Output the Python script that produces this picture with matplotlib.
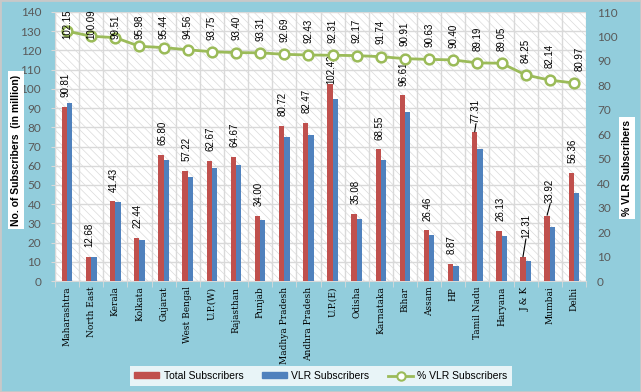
import matplotlib
matplotlib.use("Agg")
import matplotlib.pyplot as plt
from matplotlib.patches import Rectangle, Patch
from matplotlib.lines import Line2D
import numpy as np

# data
states = ["Maharashtra", "North East", "Kerala", "Kolkata", "Gujarat", "West Bengal",
          "U.P.(W)", "Rajasthan", "Punjab", "Madhya Pradesh", "Andhra Pradesh", "U.P.(E)",
          "Odisha", "Karnataka", "Bihar", "Assam", "HP", "Tamil Nadu", "Haryana",
          "J & K", "Mumbai", "Delhi"]
total_subs = [90.81, 12.68, 41.43, 22.44, 65.80, 57.22, 62.67, 64.67, 34.00, 80.72, 82.47,
              102.42, 35.08, 68.55, 96.61, 26.46, 8.87, 77.31, 26.13, 12.31, 33.92, 56.36]
vlr_subs = [92.76, 12.69, 41.23, 21.54, 62.80, 54.11, 58.75, 60.40, 31.73, 74.82, 76.23,
            94.54, 32.33, 62.89, 87.83, 23.98, 8.02, 68.95, 23.27, 10.37, 27.86, 45.63]
pct_vlr = [102.15, 100.09, 99.51, 95.98, 95.44, 94.56, 93.75, 93.40, 93.31, 92.69, 92.43,
           92.31, 92.17, 91.74, 90.91, 90.63, 90.40, 89.19, 89.05, 84.25, 82.14, 80.97]

bg = "#92CDDC"
red = "#C0504D"
blue = "#4F81BD"
green = "#9BBB59"
grid = "#D9D9D9"

plt.rcParams['font.family'] = ['Liberation Sans', 'DejaVu Sans']
plt.rcParams['hatch.linewidth'] = 0.5

fig = plt.figure(figsize=(6.41, 3.92), dpi=100, facecolor=bg)
fig.patches.append(Rectangle((0, 0), 1, 1, transform=fig.transFigure, fill=False,
                             edgecolor="#C8C8C8", linewidth=2))
ax = fig.add_axes([55/641, 1-281/392, 531/641, 269/392])
ax.set_facecolor("white")
# light diagonal hatch on the plot area
ax.add_patch(Rectangle((0, 0), 1, 1, transform=ax.transAxes, facecolor="white",
                       hatch="\\\\\\\\", edgecolor="#DADADA", linewidth=0, zorder=0))

x = np.arange(len(states))
w = 0.22
ax.bar(x - w/2, total_subs, w, color=red, zorder=3)
ax.bar(x + w/2, vlr_subs, w, color=blue, zorder=3)

ax.set_xlim(-0.5, len(states) - 0.5)
ax.set_ylim(0, 140)
ax.set_yticks(np.arange(0, 141, 10))
ax.set_xticks(x)
ax.set_xticklabels(states, rotation=90, fontsize=6.5, family="DejaVu Serif")
ax.set_xticks(np.arange(-0.5, len(states), 1), minor=True)
ax.tick_params(axis="x", which="major", length=0, pad=4)
ax.tick_params(axis="x", which="minor", length=4, color=grid)
ax.tick_params(axis="y", length=3, color=grid, labelsize=8.5, labelcolor="#595959", pad=7)
for lab in ax.get_yticklabels():
    lab.set_family("Lato")
ax.grid(axis="y", color=grid, linewidth=1, zorder=1)
ax.grid(axis="x", which="minor", color=grid, linewidth=1, zorder=1)
for s in ax.spines.values():
    s.set_color(grid)
ax.spines["top"].set_visible(False)
ax.spines["right"].set_visible(False)
ax.set_axisbelow(True)

# labels on total bars (with a few nudged ones like the original)
nudge = {"U.P.(E)": 0.3, "J & K": 10, "Mumbai": 6.5}
leader = ["Tamil Nadu", "J & K", "Mumbai"]
for i, (name, v) in enumerate(zip(states, total_subs)):
    off = nudge.get(name, 5)
    xl = i - w/2 + (0.12 if name in ("J & K", "Mumbai") else 0.05)
    ax.text(xl, v + off, f"{v:.2f}", rotation=90, ha="center", va="bottom",
            fontsize=7, zorder=5)
    if name in leader:
        ax.plot([i - w/2, xl], [v + 0.4, v + off - 0.5], color="black", lw=0.8, zorder=5)

ax2 = ax.twinx()
ax2.set_ylim(0, 110)
ax2.set_yticks(np.arange(0, 111, 10))
ax2.tick_params(axis="y", length=0, labelsize=8.5, labelcolor="#595959", pad=8)
for lab in ax2.get_yticklabels():
    lab.set_family("Lato")
for s in ax2.spines.values():
    s.set_visible(False)
ax2.plot(x, pct_vlr, color=green, lw=2, marker="o", markersize=7,
         markerfacecolor="white", markeredgecolor=green, markeredgewidth=1.8, zorder=4)
for i, p in enumerate(pct_vlr):
    yl = min(p + 5, 98.8)
    xl = i + (0.25 if i == len(pct_vlr) - 1 else 0)
    ax2.text(xl, yl, f"{p:.2f}", rotation=90, ha="center", va="bottom", fontsize=7,
             zorder=5)

fig.text(16/641, 1-150/392, "No. of Subscribers  (in million)", rotation=90,
         ha="center", va="center", fontsize=7.5, fontweight="bold",
         bbox=dict(facecolor="white", edgecolor="none", pad=2.5))
fig.text(627/641, 1-168/392, "% VLR Subscribers", rotation=90,
         ha="center", va="center", fontsize=7.5, fontweight="bold",
         bbox=dict(facecolor="white", edgecolor="none", pad=2.5))

handles = [Patch(color=red), Patch(color=blue),
           Line2D([], [], color=green, lw=2, marker="o", markersize=6,
                  markerfacecolor="white", markeredgecolor=green, markeredgewidth=1.5)]
leg = fig.legend(handles, ["Total Subscribers", "VLR Subscribers", "% VLR Subscribers"],
                 loc="center", bbox_to_anchor=(321/641, 1-376/392), ncol=3,
                 fontsize=7.5, frameon=True, fancybox=False, edgecolor="none",
                 handlelength=2.4, handleheight=0.5, handletextpad=0.4,
                 columnspacing=1.8, borderpad=0.45)
leg.get_frame().set_facecolor("white")

fig.savefig("out.png", dpi=100, facecolor=bg)
